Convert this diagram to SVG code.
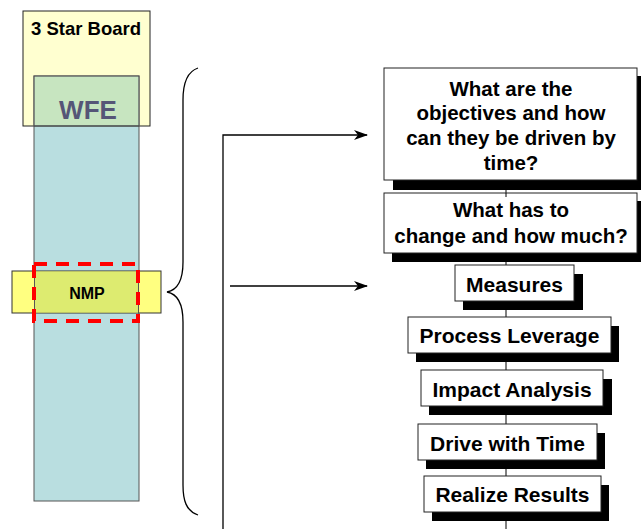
<svg xmlns="http://www.w3.org/2000/svg" width="641" height="529" viewBox="0 0 641 529">
<style>
text{font-family:"Liberation Sans",Arial,sans-serif;font-weight:bold;text-anchor:middle;fill:#000}
.box{fill:#fff;stroke:#222;stroke-width:1}
.sh{fill:#000}
.ln{stroke:#000;stroke-width:1.3;fill:none}
.bt{font-size:20.5px}
.st{font-size:21px}
</style>
<defs>
<marker id="ar" markerWidth="14" markerHeight="10" refX="13" refY="5" orient="auto" markerUnits="userSpaceOnUse">
<path d="M0,0 L14,5 L0,10 L4,5 Z" fill="#000"/>
</marker>
</defs>
<g id="board">
<rect x="23" y="11" width="127" height="115" fill="#FFFFD0" stroke="#222" stroke-width="1"/>
<text x="86" y="35" style="font-size:18.5px">3 Star Board</text>
</g>
<g id="wfe">
<rect x="34" y="76" width="105" height="425" fill="#B9DEE0" stroke="#555" stroke-width="1"/>
<rect x="34.5" y="76.5" width="104" height="49" fill="#C7E5C0"/>
<line x1="34" y1="126" x2="139" y2="126" stroke="#222" stroke-width="1"/>
<rect x="34" y="76" width="105" height="50" fill="none" stroke="#555" stroke-width="1"/>
<text x="88" y="119" style="font-size:26px;fill:#555577">WFE</text>
</g>
<g id="nmp">
<rect x="12" y="271" width="149" height="42" fill="#FFFF80" stroke="#333" stroke-width="1"/>
<rect x="34.5" y="271.5" width="104" height="41" fill="#DDEB70"/>
<line x1="34.5" y1="271" x2="34.5" y2="313" stroke="#555" stroke-width="1"/>
<line x1="138.5" y1="271" x2="138.5" y2="313" stroke="#555" stroke-width="1"/>
<text x="87" y="299" style="font-size:16px">NMP</text>
<rect x="34" y="264" width="104" height="57" fill="none" stroke="#FF0000" stroke-width="4" stroke-dasharray="13,9"/>
</g>
<g id="connectors">
<path class="ln" d="M198,68 C186,72 183,85 183,100 L183,262 C183,280 178,290 167,292 C178,294 183,304 183,322 L183,485 C183,500 186,511 198,515"/>
<path class="ln" d="M223,529 L223,135 L367,135" marker-end="url(#ar)"/>
<path class="ln" d="M230,286 L367,286" marker-end="url(#ar)"/>
<line x1="506" y1="180" x2="506" y2="529" stroke="#000" stroke-width="1"/>
</g>
<g id="q1">
<rect class="sh" x="393" y="76" width="249" height="114"/>
<rect class="box" x="384" y="68" width="253" height="112"/>
<text class="bt" x="511" y="96">What are the</text>
<text class="bt" x="511" y="120">objectives and how</text>
<text class="bt" x="511" y="145">can they be driven by</text>
<text class="bt" x="511" y="170">time?</text>
</g>
<g id="q2">
<rect class="sh" x="392" y="201" width="250" height="61"/>
<rect class="box" x="384" y="193" width="253" height="60"/>
<line x1="506" y1="193" x2="506" y2="197" stroke="#000" stroke-width="1"/>
<text class="bt" x="511" y="217">What has to</text>
<text class="bt" x="511" y="243">change and how much?</text>
</g>
<g id="measures">
<rect class="sh" x="463" y="274" width="120" height="36"/>
<rect class="box" x="455" y="265" width="119" height="36"/>
<text class="st" x="514.5" y="292">Measures</text>
</g>
<g id="process">
<rect class="sh" x="416" y="326" width="203" height="36"/>
<rect class="box" x="408" y="317" width="203" height="36"/>
<text class="st" x="509.5" y="343">Process Leverage</text>
</g>
<g id="impact">
<rect class="sh" x="429" y="379" width="183" height="36"/>
<rect class="box" x="421" y="370" width="182" height="36"/>
<text class="st" x="512" y="397">Impact Analysis</text>
</g>
<g id="drive">
<rect class="sh" x="426" y="433" width="179" height="36"/>
<rect class="box" x="418" y="424" width="179" height="36"/>
<text class="st" x="507.5" y="451">Drive with Time</text>
</g>
<g id="realize">
<rect class="sh" x="432" y="485" width="177" height="36"/>
<rect class="box" x="424" y="476" width="177" height="36"/>
<text class="st" x="512.5" y="502">Realize Results</text>
</g>
</svg>
